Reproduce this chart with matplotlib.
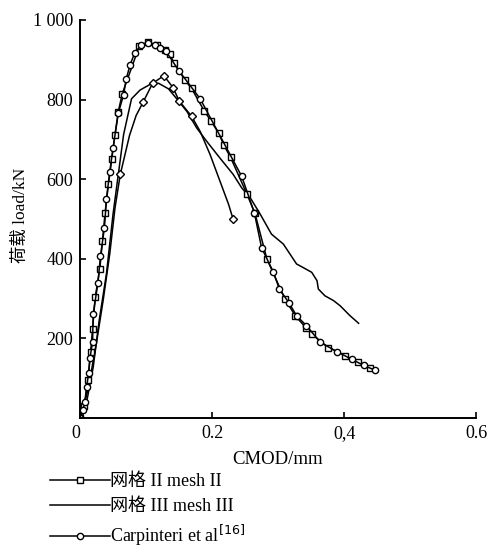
import matplotlib
matplotlib.use("Agg")
import matplotlib.pyplot as plt
from matplotlib.lines import Line2D

plt.rcParams['font.family'] = ['Liberation Serif', 'Noto Sans CJK SC']
plt.rcParams['font.size'] = 13

###############################################################################
# data (CMOD in mm, load in kN)
###############################################################################
mesh2_x = [0, 0.006, 0.012, 0.016, 0.019, 0.023, 0.030, 0.034, 0.038, 0.043,
           0.048, 0.053, 0.058, 0.064, 0.090, 0.103, 0.116, 0.128, 0.136,
           0.142, 0.159, 0.169, 0.188, 0.198, 0.210, 0.218, 0.228, 0.253,
           0.265, 0.283, 0.310, 0.326, 0.342, 0.352, 0.376, 0.402, 0.421, 0.440]
mesh2_y = [0, 30, 95, 165, 224, 303, 375, 445, 516, 587,
           650, 712, 770, 815, 935, 945, 936, 925, 914,
           893, 849, 828, 772, 747, 716, 685, 655, 562,
           514, 400, 300, 257, 227, 210, 177, 157, 140, 125]

mesh3_x = [0.003, 0.010, 0.020, 0.029, 0.040, 0.050, 0.058, 0.066, 0.078,
           0.091, 0.106, 0.119, 0.134, 0.146, 0.162, 0.177, 0.192, 0.212,
           0.232, 0.245, 0.258, 0.273, 0.290, 0.308, 0.328, 0.338, 0.351,
           0.359, 0.361, 0.371, 0.384, 0.394, 0.409, 0.422]
mesh3_y = [0, 40, 128, 245, 362, 512, 612, 712, 802,
           824, 838, 841, 827, 803, 770, 728, 695, 653,
           612, 578, 553, 512, 462, 437, 387, 378, 366,
           345, 324, 307, 295, 282, 257, 238]

carp_x = [0, 0.004, 0.008, 0.010, 0.013, 0.015, 0.019, 0.020, 0.027, 0.031,
          0.037, 0.040, 0.045, 0.050, 0.058, 0.066, 0.070, 0.076, 0.083,
          0.093, 0.103, 0.113, 0.121, 0.130, 0.150, 0.182, 0.245, 0.264,
          0.275, 0.293, 0.302, 0.317, 0.328, 0.343, 0.364, 0.389, 0.412,
          0.430, 0.447]
carp_y = [0, 20, 40, 78, 112, 150, 191, 262, 338, 407,
          478, 550, 618, 678, 766, 812, 852, 888, 918,
          937, 943, 938, 930, 922, 872, 802, 607, 516,
          428, 366, 324, 288, 257, 232, 190, 167, 147,
          132, 120]

# fourth curve (diamonds), not in the legend
diam_x = [0, 0.012, 0.025, 0.035, 0.045, 0.053, 0.061, 0.075, 0.085, 0.096,
          0.110, 0.127, 0.141, 0.150, 0.169, 0.182, 0.197, 0.212, 0.225, 0.232]
diam_y = [0, 70, 190, 295, 412, 528, 612, 710, 760, 795,
          841, 860, 830, 797, 758, 720, 662, 595, 537, 499]
diam_marks = [6, 9, 10, 11, 12, 13, 14, 19]

xticks = [0, 0.2, 0.4, 0.6]
xticklabels = ['0', '0.2', '0,4', '0.6']
yticks = [200, 400, 600, 800, 1000]
yticklabels = ['200', '400', '600', '800', '1 000']

###############################################################################
# plot
###############################################################################
fig = plt.figure(figsize=(4.97, 5.49), dpi=100)
ax = fig.add_axes([0.161, 0.2386, 0.797, 0.725])

lw = 1.1
mk = dict(markerfacecolor='white', markeredgecolor='black', markeredgewidth=1.0)
ax.plot(mesh3_x, mesh3_y, '-', color='black', lw=lw)
ax.plot(diam_x, diam_y, '-', color='black', lw=lw, marker='D', markersize=4,
        markevery=diam_marks, **mk)
ax.plot(mesh2_x, mesh2_y, '-', color='black', lw=lw, marker='s', markersize=4, **mk)
ax.plot(carp_x, carp_y, '-', color='black', lw=lw, marker='o', markersize=4.5, **mk)

ax.set_xlim(0, 0.6)
ax.set_ylim(0, 1000)
ax.set_xticks(xticks)
ax.set_xticklabels(xticklabels)
ax.set_yticks(yticks)
ax.set_yticklabels(yticklabels)
ax.tick_params(direction='in', length=4, width=1.2, labelsize=13, pad=5)
ax.xaxis.get_major_ticks()[0].label1.set_horizontalalignment('right')
for s in ['top', 'right']:
    ax.spines[s].set_visible(False)
for s in ['left', 'bottom']:
    ax.spines[s].set_linewidth(1.4)

fig.text(278 / 497, 1 - 459 / 549, 'CMOD/mm', fontsize=13.5, ha='center', va='center')
fig.text(21 / 497, 1 - 215 / 549, '荷载 load/kN', rotation=90, fontsize=12.5,
         ha='center', va='center')

# legend under the axes
handles = [
    Line2D([], [], color='black', lw=lw, marker='s', markersize=4, **mk),
    Line2D([], [], color='black', lw=lw),
    Line2D([], [], color='black', lw=lw, marker='o', markersize=4.5, **mk),
]
labels = ['网格 II mesh II', '网格 III mesh III', r'Carpinteri et al$^{[16]}$']
fig.legend(handles, labels, loc='upper left', bbox_to_anchor=(50 / 497, 1 - 473 / 549),
           frameon=False, numpoints=1, handlelength=3.3, handletextpad=0.05,
           labelspacing=0.45, borderpad=0, borderaxespad=0, fontsize=13)

fig.savefig('out.png', dpi=100)
